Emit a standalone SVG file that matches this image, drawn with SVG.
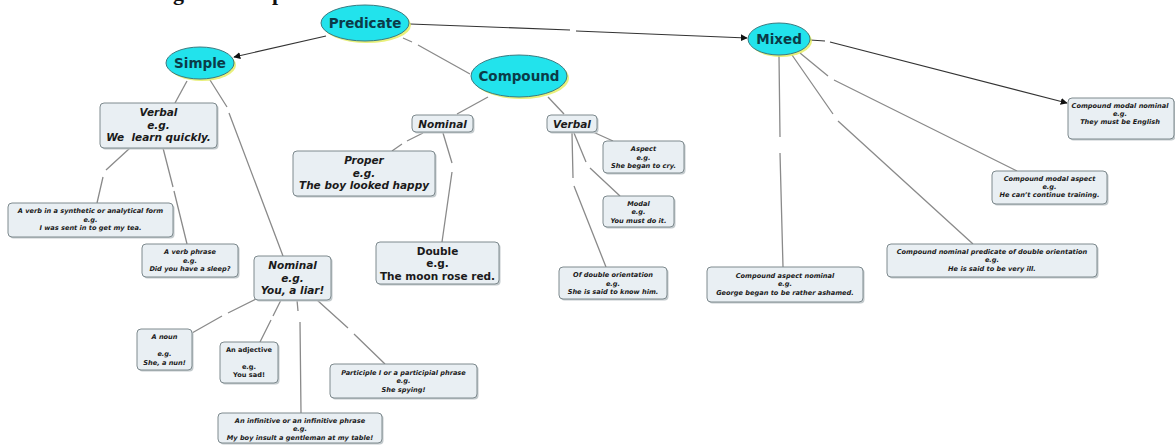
<svg xmlns="http://www.w3.org/2000/svg" width="1175" height="445" viewBox="0 0 1175 445">
<defs>
<marker id="arr" viewBox="0 0 10 10" refX="9" refY="5" markerWidth="7" markerHeight="7" orient="auto" markerUnits="userSpaceOnUse">
<path d="M0,0 L10,5 L0,10 z" fill="#111"/>
</marker>
<style>
.title{font-family:"Liberation Serif",serif;font-weight:bold;font-size:22px;fill:#111}
.ell{fill:#22e3ec;stroke:#3c7a80;stroke-width:1}
.glow{fill:#e4ec5a;opacity:0.8}
.et{font-family:"DejaVu Sans",sans-serif;font-weight:bold;font-size:13.5px;fill:#0b3b48;text-anchor:middle}
.bx{fill:#e9eff3;stroke:#7e8a8e;stroke-width:1}
.sh{fill:#c3cacd}
.bt{font-family:"DejaVu Sans",sans-serif;font-weight:bold;font-style:italic;font-size:10.5px;fill:#1a1a1a;text-anchor:middle}
.bu{font-family:"DejaVu Sans",sans-serif;font-weight:bold;font-size:10.5px;fill:#1a1a1a;text-anchor:middle}
.st{font-family:"DejaVu Sans",sans-serif;font-weight:bold;font-style:italic;font-size:6.6px;fill:#1a1a1a;text-anchor:middle}
.su{font-family:"DejaVu Sans",sans-serif;font-weight:bold;font-size:6.6px;fill:#1a1a1a;text-anchor:middle}
.ln{fill:none;stroke:#8a8a8a;stroke-width:1.3}
.dk{fill:none;stroke:#333;stroke-width:1.1}
</style>
</defs>
<rect width="1175" height="445" fill="#fff"/>
<text class="title" x="173" y="0">g</text>
<text class="title" x="272" y="0">p</text>

<g id="connectors">
<path class="dk" d="M326,36 L234,57" marker-end="url(#arr)"/>
<path class="dk" d="M410,24 L570,30 M576,31 L747,38" marker-end="url(#arr)"/>
<path class="ln" d="M403,38 L412,42 M418,45 L470,74"/>
<path class="ln" d="M488,97 L457,114"/>
<path class="ln" d="M548,97 L564,114"/>
<path class="ln" d="M423,133 L407,141 M402,144 L392,151"/>
<path class="ln" d="M443,133 L452,163 M452,172 L442,242"/>
<path class="ln" d="M593,132 L613,141"/>
<path class="ln" d="M574,133 L586,162 M590,168 L620,196"/>
<path class="ln" d="M572,133 L573,178 M574,186 L606,267"/>
<path class="ln" d="M187,81 L175,103"/>
<path class="ln" d="M210,80 L227,107 M229,113 L283,256"/>
<path class="ln" d="M130,148 L106,170 M103,177 L97,203"/>
<path class="ln" d="M163,148 L173,187 M174,191 L187,244"/>
<path class="ln" d="M256,299 L228,313 M222,316 L192,333"/>
<path class="ln" d="M281,300 L273,316 M271,320 L260,342"/>
<path class="ln" d="M297,300 L298,311 M300,322 L301,413"/>
<path class="ln" d="M317,300 L348,328 M354,334 L385,364"/>
<path class="ln" d="M779,56 L780,137 M780,153 L783,267"/>
<path class="ln" d="M792,55 L833,114 M838,121 L973,244"/>
<path class="ln" d="M800,53 L828,76 M834,80 L1017,171"/>
<path class="dk" d="M810,40 L825,41 M830,42 L1067,103" marker-end="url(#arr)"/>
</g>

<g id="predicate">
<ellipse class="glow" cx="367" cy="25" rx="44" ry="18"/>
<ellipse class="ell" cx="365" cy="23" rx="44" ry="18"/>
<text class="et" x="365" y="28">Predicate</text>
</g>
<g id="simple">
<ellipse class="glow" cx="202" cy="65" rx="34" ry="16"/>
<ellipse class="ell" cx="200" cy="63" rx="34" ry="16"/>
<text class="et" x="200" y="68">Simple</text>
</g>
<g id="compound">
<ellipse class="glow" cx="521" cy="78" rx="48" ry="21"/>
<ellipse class="ell" cx="519" cy="76" rx="48" ry="21"/>
<text class="et" x="519" y="81">Compound</text>
</g>
<g id="mixed">
<ellipse class="glow" cx="781" cy="41" rx="31" ry="16"/>
<ellipse class="ell" cx="779" cy="39" rx="31" ry="16"/>
<text class="et" x="779" y="44">Mixed</text>
</g>

<g id="simple-verbal">
<rect class="sh" x="101.5" y="104.5" width="117" height="45" rx="4"/>
<rect class="bx" x="100" y="103" width="117" height="45" rx="4"/>
<text class="bt"><tspan x="158.5" y="116">Verbal</tspan><tspan x="158.5" y="128.5">e.g.</tspan><tspan x="158.5" y="141" xml:space="preserve">We  learn quickly.</tspan></text>
</g>
<g id="verb-synthetic">
<rect class="sh" x="9.5" y="204.5" width="165" height="34" rx="4"/>
<rect class="bx" x="8" y="203" width="165" height="34" rx="4"/>
<text class="st"><tspan x="90.5" y="213">A verb in a synthetic or analytical form</tspan><tspan x="90.5" y="221.5">e.g.</tspan><tspan x="90.5" y="230">I was sent in to get my tea.</tspan></text>
</g>
<g id="verb-phrase">
<rect class="sh" x="143.5" y="245.5" width="96" height="33" rx="4"/>
<rect class="bx" x="142" y="244" width="96" height="33" rx="4"/>
<text class="st"><tspan x="190" y="254">A verb phrase</tspan><tspan x="190" y="262.5">e.g.</tspan><tspan x="190" y="271">Did you have a sleep?</tspan></text>
</g>
<g id="simple-nominal">
<rect class="sh" x="255.5" y="257.5" width="77" height="44" rx="4"/>
<rect class="bx" x="254" y="256" width="77" height="44" rx="4"/>
<text class="bt"><tspan x="292.5" y="269">Nominal</tspan><tspan x="292.5" y="281.5">e.g.</tspan><tspan x="292.5" y="294">You, a liar!</tspan></text>
</g>
<g id="a-noun">
<rect class="sh" x="138.5" y="330.5" width="55" height="41" rx="4"/>
<rect class="bx" x="137" y="329" width="55" height="41" rx="4"/>
<text class="st"><tspan x="164.5" y="339">A noun</tspan><tspan x="164.5" y="356">e.g.</tspan><tspan x="164.5" y="364.5">She, a nun!</tspan></text>
</g>
<g id="an-adjective">
<rect class="sh" x="221.5" y="343.5" width="58" height="41" rx="4"/>
<rect class="bx" x="220" y="342" width="58" height="41" rx="4"/>
<text class="su"><tspan x="249" y="352">An adjective</tspan><tspan x="249" y="368.5">e.g.</tspan><tspan x="249" y="377">You sad!</tspan></text>
</g>
<g id="participle">
<rect class="sh" x="331.5" y="365.5" width="147" height="34" rx="4"/>
<rect class="bx" x="330" y="364" width="147" height="34" rx="4"/>
<text class="st"><tspan x="403.5" y="374.5">Participle I or a participial phrase</tspan><tspan x="403.5" y="383">e.g.</tspan><tspan x="403.5" y="391.5">She spying!</tspan></text>
</g>
<g id="infinitive">
<rect class="sh" x="219.5" y="414.5" width="164" height="30" rx="4"/>
<rect class="bx" x="218" y="413" width="164" height="30" rx="4"/>
<text class="st"><tspan x="300" y="422.5">An infinitive or an infinitive phrase</tspan><tspan x="300" y="431">e.g.</tspan><tspan x="300" y="439.5">My boy insult a gentleman at my table!</tspan></text>
</g>

<g id="compound-nominal">
<rect class="sh" x="413.5" y="116.5" width="61" height="17" rx="4"/>
<rect class="bx" x="412" y="115" width="61" height="17" rx="4"/>
<text class="bt" x="442.5" y="127.5">Nominal</text>
</g>
<g id="compound-verbal">
<rect class="sh" x="548.5" y="116.5" width="50" height="17" rx="4"/>
<rect class="bx" x="547" y="115" width="50" height="17" rx="4"/>
<text class="bt" x="572" y="127.5">Verbal</text>
</g>
<g id="proper">
<rect class="sh" x="294.5" y="152.5" width="142" height="45" rx="4"/>
<rect class="bx" x="293" y="151" width="142" height="45" rx="4"/>
<text class="bt"><tspan x="364" y="164">Proper</tspan><tspan x="364" y="176.5">e.g.</tspan><tspan x="364" y="188.5">The boy looked happy</tspan></text>
</g>
<g id="double">
<rect class="sh" x="377.5" y="243.5" width="123" height="42" rx="4"/>
<rect class="bx" x="376" y="242" width="123" height="42" rx="4"/>
<text class="bu"><tspan x="437.5" y="254.5">Double</tspan><tspan x="437.5" y="267">e.g.</tspan><tspan x="437.5" y="279.5">The moon rose red.</tspan></text>
</g>
<g id="aspect">
<rect class="sh" x="604.5" y="142.5" width="81" height="32" rx="4"/>
<rect class="bx" x="603" y="141" width="81" height="32" rx="4"/>
<text class="st"><tspan x="643.5" y="151">Aspect</tspan><tspan x="643.5" y="159.5">e.g.</tspan><tspan x="643.5" y="168">She began to cry.</tspan></text>
</g>
<g id="modal">
<rect class="sh" x="604.5" y="197.5" width="71" height="31" rx="4"/>
<rect class="bx" x="603" y="196" width="71" height="31" rx="4"/>
<text class="st"><tspan x="638.5" y="205.5">Modal</tspan><tspan x="638.5" y="214">e.g.</tspan><tspan x="638.5" y="222.5">You must do it.</tspan></text>
</g>
<g id="of-double-orientation">
<rect class="sh" x="560.5" y="268.5" width="108" height="32" rx="4"/>
<rect class="bx" x="559" y="267" width="108" height="32" rx="4"/>
<text class="st"><tspan x="613" y="277">Of double orientation</tspan><tspan x="613" y="285.5">e.g.</tspan><tspan x="613" y="294">She is said to know him.</tspan></text>
</g>

<g id="compound-modal-nominal">
<rect class="sh" x="1069.5" y="99.5" width="106" height="41" rx="4"/>
<rect class="bx" x="1068" y="98" width="106" height="41" rx="4"/>
<text class="st"><tspan x="1120" y="108">Compound modal nominal</tspan><tspan x="1120" y="116">e.g.</tspan><tspan x="1120" y="124">They must be English</tspan></text>
</g>
<g id="compound-modal-aspect">
<rect class="sh" x="993.5" y="172.5" width="115" height="33" rx="4"/>
<rect class="bx" x="992" y="171" width="115" height="33" rx="4"/>
<text class="st"><tspan x="1049.5" y="180.5">Compound modal aspect</tspan><tspan x="1049.5" y="188.5">e.g.</tspan><tspan x="1049.5" y="197">He can’t continue training.</tspan></text>
</g>
<g id="compound-nominal-double">
<rect class="sh" x="888.5" y="245.5" width="210" height="33" rx="4"/>
<rect class="bx" x="887" y="244" width="210" height="33" rx="4"/>
<text class="st"><tspan x="992" y="253.5">Compound nominal predicate of double orientation</tspan><tspan x="992" y="262">e.g.</tspan><tspan x="992" y="270.5">He is said to be very ill.</tspan></text>
</g>
<g id="compound-aspect-nominal">
<rect class="sh" x="708.5" y="268.5" width="156" height="35" rx="4"/>
<rect class="bx" x="707" y="267" width="156" height="35" rx="4"/>
<text class="st"><tspan x="785" y="277.5">Compound aspect nominal</tspan><tspan x="785" y="286">e.g.</tspan><tspan x="785" y="294.5">George began to be rather ashamed.</tspan></text>
</g>
</svg>
